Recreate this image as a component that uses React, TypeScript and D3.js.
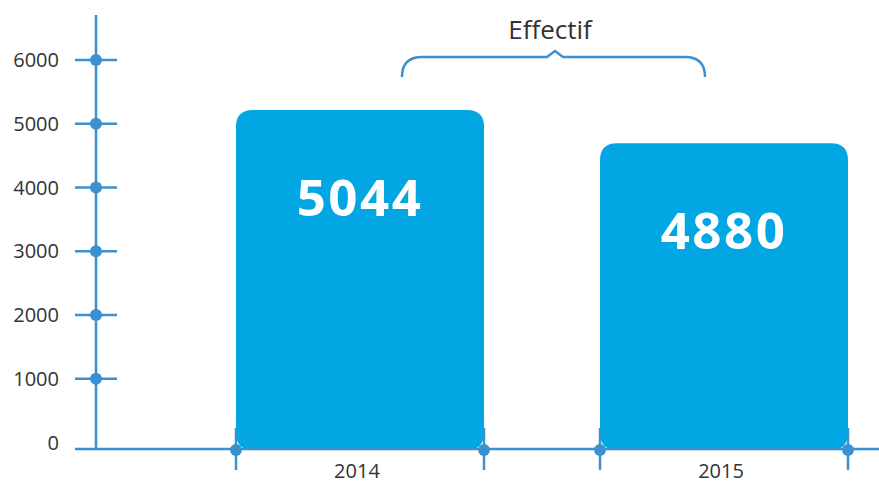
import React from "react";
import * as d3 from "d3";

const categories = ["2014", "2015"];
const values = [5044, 4880];
const yTicks = [0, 1000, 2000, 3000, 4000, 5000, 6000];
const annotationLabel = "Effectif";

const W = 879;
const H = 482;
const AXIS = "#3a90d0";
const BAR = "#02a6e2";
const TEXT = "#333333";
const FONT = "'Open Sans', 'Noto Sans', sans-serif";

export default function App() {
  const yAxisX = 96;
  const xAxisY = 449;
  const y = d3.scaleLinear().domain([0, 6000]).range([442.5, 60]);
  // bar heights in the infographic follow their own (non-zero) baseline
  const barY = d3.scaleLinear().domain([3374, 5044]).range([xAxisY, 110]);
  const x = d3.scaleBand<string>().domain(categories).range([236, 848]).paddingInner(0.3187).paddingOuter(0);
  const bw = x.bandwidth();
  const r = 17;

  const barPath = (x0: number, top: number, w: number, bottom: number) => {
    const p = d3.path();
    p.moveTo(x0 + r, top);
    p.lineTo(x0 + w - r, top);
    p.quadraticCurveTo(x0 + w, top, x0 + w, top + r);
    p.lineTo(x0 + w, bottom - r);
    p.quadraticCurveTo(x0 + w, bottom, x0 + w - r, bottom);
    p.lineTo(x0 + r, bottom);
    p.quadraticCurveTo(x0, bottom, x0, bottom - r);
    p.lineTo(x0, top + r);
    p.quadraticCurveTo(x0, top, x0 + r, top);
    p.closePath();
    return p.toString();
  };

  const xTickPositions: number[] = [];
  categories.forEach((c) => {
    const x0 = x(c) as number;
    xTickPositions.push(x0, x0 + bw);
  });

  const bx0 = 402, bx1 = 705, by = 57, bBottom = 77, mid = (bx0 + bx1) / 2 + 1.5;
  const brace = `M${bx0},${bBottom} Q${bx0},${by} ${bx0 + 20},${by} L${mid - 8},${by} L${mid},${by - 6} L${mid + 8},${by} L${bx1 - 20},${by} Q${bx1},${by} ${bx1},${bBottom}`;

  return (
    <svg width={W} height={H} style={{ position: "absolute", left: 0, top: 0, background: "#fff" }} fontFamily={FONT}>
      {/* bars */}
      {categories.map((c, i) => {
        const x0 = x(c) as number;
        const top = barY(values[i]);
        return (
          <g key={c}>
            <path d={barPath(x0, top, bw, xAxisY + 1)} fill={BAR} />
            <text x={x0 + bw / 2} y={top + 106} textAnchor="middle" fill="#fff" fontSize={51} fontWeight={700} letterSpacing={2.5}>
              {values[i]}
            </text>
            <text x={x0 + bw / 2 - 3} y={478} textAnchor="middle" fill={TEXT} fontSize={20}>
              {c}
            </text>
          </g>
        );
      })}

      {/* y axis */}
      <line x1={yAxisX} x2={yAxisX} y1={15} y2={xAxisY} stroke={AXIS} strokeWidth={2.5} />
      {yTicks.map((t) => (
        <g key={t}>
          {t > 0 && (
            <>
              <line x1={75} x2={117} y1={y(t)} y2={y(t)} stroke={AXIS} strokeWidth={2.5} />
              <circle cx={yAxisX} cy={y(t)} r={6} fill={AXIS} />
            </>
          )}
          <text x={59} y={y(t)} dy="0.36em" textAnchor="end" fill={TEXT} fontSize={20}>
            {t}
          </text>
        </g>
      ))}

      {/* x axis */}
      <line x1={75} x2={W} y1={xAxisY} y2={xAxisY} stroke={AXIS} strokeWidth={2.5} />
      {xTickPositions.map((px, i) => (
        <g key={i}>
          <line x1={px} x2={px} y1={428} y2={470} stroke={AXIS} strokeWidth={2.5} />
          <circle cx={px} cy={xAxisY + 1} r={6} fill={AXIS} />
        </g>
      ))}

      {/* annotation */}
      <path d={brace} fill="none" stroke={AXIS} strokeWidth={2.5} />
      <text x={550} y={39} textAnchor="middle" fill={TEXT} fontSize={26}>
        {annotationLabel}
      </text>
    </svg>
  );
}
